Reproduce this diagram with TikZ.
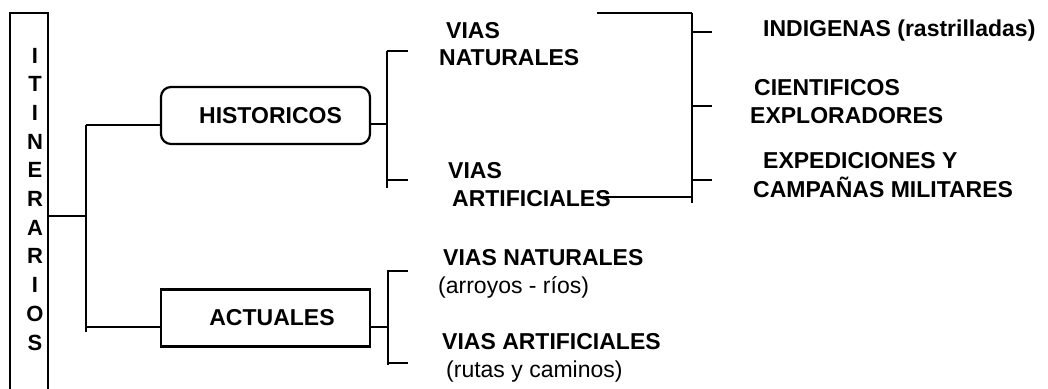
\documentclass[tikz,border=0pt]{standalone}
\usepackage{fontspec}
\setmainfont{Liberation Sans}
\begin{document}
\begin{tikzpicture}[x=1pt,y=-1pt,
  ln/.style={line width=2.2pt, line cap=butt},
  bold/.style={font=\fontsize{23}{27}\selectfont\bfseries, inner sep=0pt, anchor=base west},
  reg/.style={font=\fontsize{23}{27}\selectfont, inner sep=0pt, anchor=base west},
  letter/.style={font=\fontsize{22}{26}\selectfont\bfseries, inner sep=0pt, anchor=base},
  boxstyle/.style={draw, line width=2.2pt, minimum width=209pt, minimum height=57pt, inner sep=0pt,
     font=\fontsize{23}{27}\selectfont\bfseries}]
\useasboundingbox (0,0) rectangle (1048,388);
% ITINERARIOS column
\node[draw, line width=2.2pt, minimum width=38pt, minimum height=395pt, inner sep=0pt] (itin) at (29,210.5) {};
\foreach \l [count=\i] in {I,T,I,N,E,R,A,R,I,O,S}
  \node[letter] (l\i) at (35,{63+28.7*(\i-1)}) {\l};
% level-1 boxes
\node[boxstyle, rounded corners=10pt] (hist) at (265.5,115.5) {\hspace{10pt}HISTORICOS};
\node[boxstyle] (act) at (265.5,318) {\hspace{13pt}ACTUALES};
% trunk
\coordinate (tm) at (86,216);
\coordinate (t1) at (86,125);
\coordinate (t2) at (86,332);
\coordinate (t3) at (86,327);
\draw[ln] (itin.east |- tm) -- (tm);
\draw[ln] (t1) -- (t2);
\draw[ln] (t1) -- (hist.west |- t1);
\draw[ln] (t3) -- (act.west |- t3);
% historicos bracket
\coordinate (hb) at (387,124);
\coordinate (hbt) at (387,51);
\coordinate (hbb) at (387,188);
\coordinate (hk1) at (408,51);
\coordinate (hk2) at (408,180);
\draw[ln] (hist.east |- hb) -- (hb);
\draw[ln] (hbt) -- (hbb);
\draw[ln] (hbt) -- (hk1);
\draw[ln] (hk2 -| hbt) -- (hk2);
\node[bold] (vn1) at (446,38) {VIAS};
\node[bold] (vn2) at (439,65) {NATURALES};
\node[bold] (va1) at (448,178) {VIAS};
\node[bold] (va2) at (452,206) {ARTIFICIALES};
% right bracket
\coordinate (rt0) at (597,13);
\coordinate (rt) at (692,13);
\coordinate (rb) at (692,203);
\coordinate (rl) at (603,197);
\draw[ln] (rt0) -- (rt);
\draw[ln] (rt) -- (rb);
\draw[ln] (rl) -- (rl -| rt);
\coordinate (rk1) at (712,32);
\coordinate (rk2) at (712,106);
\coordinate (rk3) at (712,180);
\draw[ln] (rk1 -| rt) -- (rk1);
\draw[ln] (rk2 -| rt) -- (rk2);
\draw[ln] (rk3 -| rt) -- (rk3);
\node[bold] (ind) at (763,36) {INDIGENAS (rastrilladas)};
\node[bold] (cie1) at (754,95) {CIENTIFICOS};
\node[bold] (cie2) at (750,123) {EXPLORADORES};
\node[bold] (exp1) at (763,168) {EXPEDICIONES Y};
\node[bold] (exp2) at (753,197) {CAMPAÑAS MILITARES};
% actuales bracket
\coordinate (ab) at (388,327);
\coordinate (abt) at (388,270);
\coordinate (abb) at (388,365);
\coordinate (ak1) at (408,271);
\coordinate (ak2) at (408,363);
\draw[ln] (act.east |- ab) -- (ab);
\draw[ln] (abt) -- (abb);
\draw[ln] (ak1 -| abt) -- (ak1);
\draw[ln] (ak2 -| abt) -- (ak2);
\node[bold] (an1) at (443,265) {VIAS NATURALES};
\node[reg] (an2) at (438,293) {(arroyos - ríos)};
\node[bold] (aa1) at (442,349) {VIAS ARTIFICIALES};
\node[reg] (aa2) at (446,377) {(rutas y caminos)};
\end{tikzpicture}
\end{document}
